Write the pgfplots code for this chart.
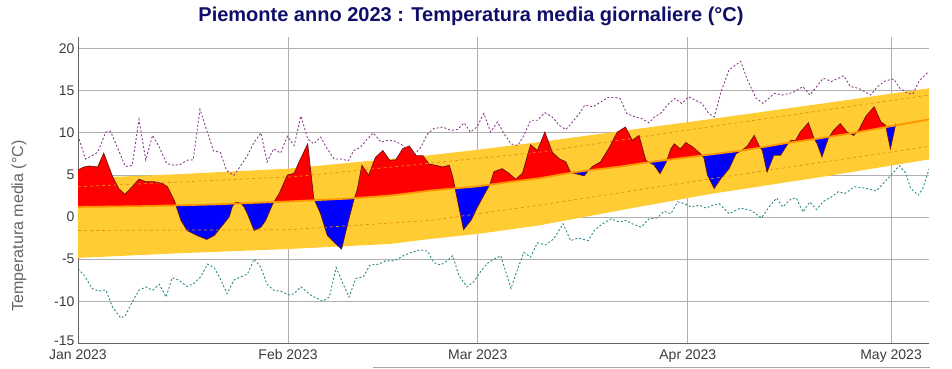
\documentclass[border=0pt]{standalone}
\usepackage{pgfplots}
\pgfplotsset{compat=1.18}
\usepgfplotslibrary{fillbetween}
\usepackage{pgfplotstable}
\usepackage{fontspec}
\setmainfont{Liberation Sans}
\definecolor{bandc}{RGB}{255,204,51}
\definecolor{meanc}{RGB}{255,150,0}
\definecolor{dashc}{RGB}{225,145,20}
\definecolor{maxc}{RGB}{140,60,140}
\definecolor{minc}{RGB}{45,135,135}
\definecolor{titlec}{RGB}{15,15,105}
\definecolor{gridc}{RGB}{175,175,175}
\definecolor{axc}{RGB}{100,100,100}
\definecolor{tickc}{RGB}{60,60,60}
\definecolor{labc}{RGB}{100,100,100}
\definecolor{outc}{RGB}{110,20,10}

\pgfplotstableread{
x y
0 5.6
0.9 5.95
1.7 6.07
2.9 5.95
3.8 7.6
5.1 4.8
6.0 3.4
6.9 2.7
8.0 3.6
9.0 4.5
10.0 4.2
11.2 4.2
12.4 4.0
13.2 3.6
14.2 2.0
15.2 -0.4
16.1 -1.6
17.6 -2.2
19.0 -2.66
20.1 -2.2
21.3 -1.0
22.3 0.0
22.8 1.3
23.3 1.75
24.0 1.7
24.5 1.2
25.0 0.4
26.0 -1.6
27.0 -1.2
27.7 -0.4
28.7 1.5
29.7 2.8
30.9 5.0
31.9 5.2
32.6 6.5
33.9 8.7
34.8 2.2
35.8 0.4
36.8 -2.2
37.8 -3.0
38.9 -3.8
39.8 -0.8
40.7 2.0
41.2 3.2
41.9 6.15
42.9 4.96
43.9 7.1
45.0 7.9
46.0 6.75
46.9 6.8
47.9 8.1
48.9 8.45
49.9 7.3
50.9 7.3
51.8 6.3
52.8 6.15
53.8 5.95
54.8 6.15
55.3 4.8
56.9 -1.5
58.0 -0.4
58.9 1.1
59.9 2.6
60.8 3.9
61.4 5.4
62.6 5.75
63.6 5.2
64.6 4.5
65.6 5.2
66.8 8.6
67.8 7.9
68.9 10.1
70.0 7.7
71.0 6.95
72.0 6.55
72.7 5.3
73.7 5.1
74.7 4.9
75.4 5.6
75.9 6.0
77.1 6.55
78.3 8.1
79.6 10.1
80.8 10.7
81.8 9.1
82.8 9.7
83.8 6.75
84.5 6.4
85.0 6.2
85.9 5.15
86.8 6.5
87.5 8.1
88.0 8.7
88.9 8.1
89.7 8.85
90.7 8.35
91.9 7.5
92.4 7.0
92.9 5.0
93.9 3.4
94.9 4.6
96.1 5.75
97.1 7.5
98.1 8.0
98.8 8.45
99.8 9.7
100.5 8.5
101.0 7.9
101.7 5.35
102.7 7.35
103.7 7.35
104.6 8.5
105.2 9.1
105.9 9.1
106.6 10.1
107.8 11.2
108.6 9.4
109.1 8.7
109.8 7.15
110.7 9.3
111.5 10.3
112.5 11.1
113.5 10.1
114.5 9.7
115.2 10.3
116.3 12.0
117.5 13.1
118.5 11.3
119.2 10.9
119.9 8.1
120.7 11.1
}\temptab

\pgfplotstableread{
x y
0 1.2
10 1.3
20 1.5
31 1.85
40 2.2
46 2.55
52 3.15
59 3.65
64 4.2
68 4.6
73 5.3
80 6.0
85 6.6
92 7.3
98 7.9
101 8.3
105 8.85
109 9.3
114.5 10.0
120 10.8
125.6 11.6
}\meantab

\pgfplotstableread{
x y
0 1.2
10 1.3
20 1.5
31 1.85
40 2.2
46 2.55
52 3.15
59 3.65
64 4.2
68 4.6
73 5.3
80 6.0
85 6.6
92 7.3
98 7.9
101 8.3
105 8.85
109 9.3
114.5 10.0
120 10.8
120.7 10.9
}\meanpart

\pgfplotstableread{
x y
0 4.6
15 5.1
31 5.75
46 6.9
52 7.35
59 8.0
68 8.9
80 10.2
93 11.6
110 13.5
125.6 15.3
}\bandup

\pgfplotstableread{
x y
0 -4.85
15 -4.3
31 -3.8
46 -3.2
52 -2.6
59 -2.0
68 -1.0
80 0.8
93 2.7
110 4.8
125.6 6.85
}\bandlo

\pgfplotstableread{
x y
0 3.6
32 4.8
52 6.4
68 7.7
93 10.7
125.6 14.5
}\dashup

\pgfplotstableread{
x y
0 -1.6
31 -1.5
52 -0.4
68 1.4
93 4.5
125.6 8.4
}\dashlo

\pgfplotstableread{
x y
0 9.7
1.1 6.9
2.1 7.3
2.9 7.7
4.1 10.1
4.8 10.2
5.8 8.3
7.0 6.0
8.0 6.15
9.0 11.6
10.0 6.8
11.0 9.7
12.0 8.3
13.1 6.35
14.2 6.15
15.1 6.27
16.1 6.75
17.0 6.8
18.0 12.8
19.0 10.3
20.0 7.86
21.0 7.7
21.9 5.55
23.0 4.96
23.9 5.95
25.0 7.3
26.0 8.9
27.0 10.0
27.9 6.55
28.9 8.13
29.9 7.6
30.9 9.6
31.9 8.5
32.9 12.0
33.9 9.3
34.8 8.7
35.8 9.5
36.8 8.1
37.8 6.9
38.8 6.9
39.9 6.7
40.7 7.9
41.7 8.3
42.7 9.3
43.6 10.0
44.7 8.9
45.7 9.1
46.7 9.05
47.7 8.65
48.7 7.9
49.7 7.5
50.6 8.3
51.6 9.9
52.5 10.5
53.8 10.7
55.0 10.3
56.0 10.4
57.0 11.2
57.9 10.1
58.9 10.7
59.9 12.3
60.9 10.1
61.9 11.3
62.9 9.9
63.9 8.7
64.9 8.5
65.8 9.7
66.8 11.5
67.8 11.5
68.9 12.4
70.0 11.9
71.0 10.9
72.0 10.4
73.0 11.3
74.0 12.3
74.8 13.3
76.0 13.1
77.0 13.6
78.2 14.2
79.3 14.2
80.0 14.1
81.0 12.3
82.2 11.9
83.2 11.7
84.3 11.2
85.1 11.9
86.1 12.4
87.1 13.4
88.1 14.1
89.1 13.5
90.1 14.3
91.1 13.9
92.1 13.5
93.1 12.3
93.9 11.9
94.9 14.9
96.1 17.5
97.8 18.5
98.8 16.3
100.1 14.1
101.1 13.5
102.8 14.7
104.0 14.5
105.5 14.8
107.0 15.5
108.0 14.5
110.0 16.5
111.2 16.1
113.0 16.8
114.0 15.5
115.2 15.3
117.0 14.5
118.0 15.5
119.2 16.2
120.4 16.4
121.3 15.3
122.5 14.7
123.2 14.6
124.1 16.1
125.3 17.1
125.6 17.1
}\maxtab

\pgfplotstableread{
x y
0 -6.15
0.9 -6.9
2.1 -8.5
3.1 -8.8
4.1 -8.65
5.1 -10.7
6.3 -12.0
7.0 -11.7
8.0 -10.1
9.0 -8.7
10.0 -8.3
11.0 -8.7
12.0 -8.0
13.0 -9.5
13.9 -7.2
14.9 -7.5
16.1 -8.25
17.1 -7.9
18.1 -7.1
19.1 -5.6
20.1 -6.0
21.1 -7.5
22.0 -9.1
23.0 -7.5
24.0 -7.1
25.0 -6.8
26.0 -5.0
27.0 -6.0
27.9 -8.0
28.9 -8.7
29.9 -8.8
31.1 -9.25
31.9 -9.1
32.9 -8.3
34.4 -9.3
36.1 -10.0
37.1 -9.5
38.1 -6.0
39.1 -7.9
40.0 -9.5
41.0 -7.3
42.1 -7.1
43.1 -5.7
44.4 -5.6
45.4 -5.2
46.7 -5.2
48.0 -4.6
49.2 -4.2
50.6 -3.9
51.6 -4.05
52.5 -5.4
53.5 -5.7
54.5 -5.2
55.3 -4.6
56.2 -6.9
57.4 -8.3
58.4 -7.7
59.4 -6.5
60.4 -5.5
61.4 -5.0
62.4 -4.6
63.9 -8.5
64.9 -6.15
65.8 -4.2
66.8 -4.75
67.8 -3.05
69.0 -3.3
70.2 -2.6
71.6 -0.8
72.7 -2.8
73.8 -2.5
75.3 -2.8
76.2 -1.6
77.4 -0.8
78.7 -0.2
79.9 -0.6
80.9 -0.4
81.8 -0.8
83.1 -1.2
84.3 -0.2
85.5 -0.1
86.5 0.68
87.5 0.4
88.5 1.8
89.5 1.6
90.5 1.2
91.7 1.4
92.7 1.07
93.7 1.4
94.6 1.6
96.1 0.4
97.8 1.07
99.3 0.8
100.9 -0.1
102.0 1.2
103.1 2.26
104.0 1.2
105.3 2.2
106.0 2.26
107.0 0.6
108.0 1.8
109.0 0.9
110.0 1.85
111.2 2.4
112.2 3.0
113.2 2.8
114.6 3.6
116.1 3.45
117.8 3.1
119.1 4.2
120.4 5.35
121.2 6.1
122.1 5.3
122.9 3.4
124.0 2.6
124.7 3.4
125.6 5.7
}\mintab

\begin{document}
\begin{tikzpicture}
\begin{axis}[
  at={(0,0)}, anchor=south west,
  scale only axis, width=851pt, height=306.6pt,
  xmin=0, xmax=125.6, ymin=-15, ymax=21.43,
  xtick={0,31,59,90,120},
  xticklabels={Jan 2023,Feb 2023,Mar 2023,Apr 2023,May 2023},
  ytick={-15,-10,-5,0,5,10,15,20},
  yticklabels={\raisebox{5pt}{-15},-10,-5,0,5,10,15,20},
  grid=major, major grid style={gridc, line width=0.8pt},
  axis x line*=bottom, axis y line*=left,
  axis line style={axc, line width=1pt, -},
  major tick length=0pt,
  tick label style={font=\fontsize{14}{16}\selectfont, text=tickc},
  xticklabel style={yshift=-3pt},
  /pgf/number format/assume math mode=true,
  ylabel={Temperatura media (°C)},
  ylabel style={at={(axis description cs:-0.0693,0.3826)}, anchor=center, font=\fontsize{16}{18}\selectfont, text=labc},
  title={Piemonte anno 2023 : Temperatura media giornaliere (°C)},
  title style={at={(axis description cs:0.4618,1.048)}, anchor=center, yshift=0pt, font=\bfseries\fontsize{20}{24}\selectfont, text=titlec},
]
\addplot[name path=bu, draw=none] table {\bandup};
\addplot[name path=bl, draw=none] table {\bandlo};
\addplot[fill=bandc, draw=none] fill between[of=bu and bl];
\addplot[dashc, line width=0.7pt, dash pattern=on 3pt off 3pt] table {\dashup};
\addplot[dashc, line width=0.7pt, dash pattern=on 3pt off 3pt] table {\dashlo};
\addplot[name path=tp, draw=none] table {\temptab};
\addplot[name path=mn, draw=none] table {\meanpart};
\addplot[fill=red, draw=none] fill between[of=tp and mn, split,
   every even segment/.style={fill=red}, every odd segment/.style={fill=blue}];
\addplot[outc, line width=0.7pt] table {\temptab};
\addplot[meanc, line width=1.8pt] table {\meantab};
\addplot[maxc, line width=0.9pt, dash pattern=on 2pt off 2pt] table {\maxtab};
\addplot[minc, line width=0.9pt, dash pattern=on 2pt off 2pt] table {\mintab};
\end{axis}
\draw[gray!70, line width=1pt] (295pt,-23.7pt) -- (852pt,-23.7pt);
\path (-78pt,-25.7pt) rectangle (874pt,343.3pt);
\end{tikzpicture}
\end{document}
